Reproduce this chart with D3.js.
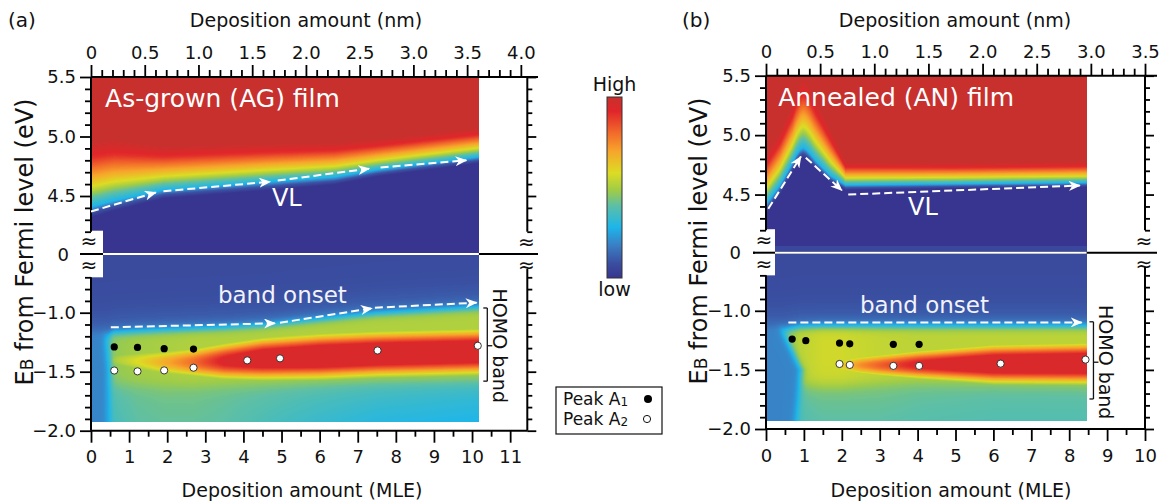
<!DOCTYPE html>
<html>
<head>
<meta charset="utf-8">
<script src="https://cdn.jsdelivr.net/npm/d3@7"></script>
<style>
body { margin: 0; background: #fff; }
svg { font-family: "DejaVu Sans", sans-serif; }
</style>
</head>
<body>
<svg id="fig" width="1166" height="504"></svg>
<script>
// ---------- values ----------
// colour map (low -> high)
var cmapV = [0, 0.08, 0.18, 0.28, 0.40, 0.48, 0.58, 0.70, 0.80, 0.92, 1.0];
var cmapC = ["#37358f", "#3a4ea0", "#3a7ec4", "#1db5ea", "#5dbfa5", "#9ccb4a",
             "#dcdc24", "#f7a52b", "#f26b2a", "#e0262a", "#c8302d"];

// (a) as-grown film, secondary-electron cutoff (VL edge)
var agVlX   = [0, 0.6, 1.9, 4.7, 6.4, 7.5, 10.2];
var agVlE   = [4.41, 4.46, 4.55, 4.62, 4.66, 4.72, 4.83];
var agVlW   = [1.3, 1.2, 1.0, 1.0, 0.9, 0.8, 0.75];
var agVlWUp = [1.7, 1.6, 1.15, 1.0, 0.9, 0.8, 0.75];
// (a) HOMO region
var agBandX   = [0.45, 0.6, 1.2, 1.9, 2.7, 3.5, 4.5, 6.0, 7.5, 10.2];
var agOnsetE  = [-1.19, -1.17, -1.16, -1.15, -1.14, -1.13, -1.11, -1.06, -1.01, -0.96];
var agPlateau = [0.42, 0.47, 0.49, 0.50, 0.51, 0.51, 0.51, 0.51, 0.51, 0.51];
var agLowerE  = [-1.60, -1.60, -1.61, -1.62, -1.62, -1.61, -1.60, -1.59, -1.58, -1.57];
var agCoreE   = [-1.40, -1.40, -1.41, -1.42, -1.42, -1.41, -1.39, -1.37, -1.35, -1.33];
var agCoreAmp = [0.40, 0.50, 0.58, 0.68, 0.80, 0.95, 1.05, 1.10, 1.10, 1.10];
var agCoreW   = [0.13, 0.14, 0.15, 0.16, 0.17, 0.19, 0.21, 0.22, 0.22, 0.22];
var agTailHi  = [0.36, 0.40, 0.42, 0.43, 0.43, 0.42, 0.41, 0.39, 0.37, 0.35];
var agTailLo  = [0.30, 0.36, 0.40, 0.41, 0.41, 0.40, 0.37, 0.33, 0.30, 0.28];
var agEdgeE   = [-1.10, -1.20, -1.50, -1.93];
var agEdgeX   = [0.30, 0.40, 0.48, 0.42];
// (a) arrows and peaks
var agVlArrows = [[[0, 4.37], [1.7, 4.53]], [[1.9, 4.54], [4.7, 4.62]],
                  [[4.9, 4.63], [7.3, 4.73]], [[7.6, 4.74], [9.85, 4.80]]];
var agOnsetArrows = [[[0.52, -1.124], [4.83, -1.09]], [[4.96, -1.085], [7.37, -0.963]],
                     [[7.45, -0.958], [10.12, -0.915]]];
var agA1X = [0.61, 1.22, 1.92, 2.69];
var agA1E = [-1.290, -1.294, -1.305, -1.308];
var agA2X = [0.61, 1.22, 1.92, 2.69, 4.10, 4.96, 7.52, 10.15];
var agA2E = [-1.490, -1.497, -1.489, -1.466, -1.404, -1.387, -1.320, -1.280];

// (b) annealed film, VL edge
var anVlX   = [0, 0.37, 0.7, 0.8, 0.9, 0.98, 1.06, 1.15, 1.3, 1.7, 2.1, 5.0, 8.46];
var anVlE   = [4.42, 4.58, 4.77, 4.835, 4.88, 4.895, 4.88, 4.85, 4.79, 4.66, 4.58, 4.59, 4.60];
var anVlW   = [1.2, 1.2, 1.2, 1.2, 1.2, 1.2, 1.2, 1.2, 1.1, 0.9, 0.6, 0.55, 0.55];
var anVlWUp = [1.3, 1.4, 1.55, 1.65, 1.75, 1.8, 1.8, 1.75, 1.6, 1.2, 0.6, 0.55, 0.55];
var anStripE = 4.07;
// (b) HOMO region
var anBandX   = [0.5, 0.9, 1.5, 2.0, 2.5, 3.0, 4.0, 6.0, 8.46];
var anOnsetE  = [-1.16, -1.14, -1.135, -1.135, -1.135, -1.135, -1.135, -1.135, -1.135];
var anPlateau = [0.45, 0.53, 0.56, 0.56, 0.55, 0.54, 0.53, 0.53, 0.53];
var anLowerE  = [-1.60, -1.62, -1.63, -1.63, -1.62, -1.61, -1.60, -1.61, -1.62];
var anCoreE   = [-1.46, -1.46, -1.46, -1.46, -1.46, -1.46, -1.455, -1.45, -1.445];
var anCoreAmp = [0, 0, 0.40, 0.62, 0.74, 0.82, 0.95, 1.08, 1.10];
var anCoreW   = [0.10, 0.10, 0.10, 0.11, 0.12, 0.13, 0.15, 0.19, 0.20];
var anTailHi  = [0.40, 0.42, 0.43, 0.43, 0.43, 0.43, 0.42, 0.41, 0.41];
var anTailLo  = [0.36, 0.38, 0.40, 0.40, 0.40, 0.40, 0.39, 0.38, 0.38];
var anEdgeE   = [-1.10, -1.18, -1.50, -1.93];
var anEdgeX   = [0.30, 0.45, 0.94, 0.80];
// (b) arrows and peaks
var anVlArrows = [[[0.06, 4.38], [0.92, 4.82]], [[1.05, 4.81], [2.0, 4.536]],
                  [[2.17, 4.50], [8.28, 4.576]]];
var anOnsetArrows = [[[0.59, -1.098], [8.33, -1.098]]];
var anA1X = [0.69, 1.05, 1.94, 2.21, 3.36, 4.04];
var anA1E = [-1.239, -1.253, -1.273, -1.279, -1.284, -1.284];
var anA2X = [1.94, 2.21, 3.36, 4.04, 6.19, 8.43];
var anA2E = [-1.450, -1.458, -1.466, -1.466, -1.447, -1.413];

// axis ticks
var topMajorE = [4.5, 5.0, 5.5];
var topMinorE = [4.2, 4.3, 4.4, 4.6, 4.7, 4.8, 4.9, 5.1, 5.2, 5.3, 5.4];
var botMajorE = [-1.0, -1.5, -2.0];
var botMinorE = [-0.7, -0.8, -0.9, -1.1, -1.2, -1.3, -1.4, -1.6, -1.7, -1.8, -1.9];
var agNmMajor = [0, 0.5, 1.0, 1.5, 2.0, 2.5, 3.0, 3.5, 4.0];
var anNmMajor = [0, 0.5, 1.0, 1.5, 2.0, 2.5, 3.0, 3.5];
var agMleMajor = [0, 1, 2, 3, 4, 5, 6, 7, 8, 9, 10, 11];
var anMleMajor = [0, 1, 2, 3, 4, 5, 6, 7, 8, 9, 10];

// ---------- drawing ----------
var svg = d3.select("#fig");
var defs = svg.append("defs");
defs.append("marker").attr("id", "arrowW")
    .attr("viewBox", "0 0 12 10").attr("refX", 11).attr("refY", 5)
    .attr("markerWidth", 12).attr("markerHeight", 10)
    .attr("markerUnits", "userSpaceOnUse").attr("orient", "auto")
  .append("path").attr("d", "M0,0 L12,5 L0,10 L3.5,5 Z").attr("fill", "#fff");

var cmap = d3.scaleLinear().domain(cmapV).range(cmapC).clamp(true);
var lut = d3.range(256).map(function(i) { return d3.rgb(cmap(i / 255)); });

function lin(xs, ys) { return d3.scaleLinear().domain(xs).range(ys).clamp(true); }
function sig(t) { return 1 / (1 + Math.exp(-t)); }

// shape of the cutoff across the edge (eV relative to the cyan edge)
var topShape = d3.scaleLinear()
    .domain([-0.07, -0.035, 0, 0.05, 0.1, 0.16, 0.24, 0.32])
    .range([0, 0.1, 0.28, 0.42, 0.58, 0.72, 0.9, 1]).clamp(true);

function topValue(vx, ve, vw, vwu, stripE) {
  var c = lin(vx, ve), wf = lin(vx, vw), wu = lin(vx, vwu);
  return function(x, E) {
    var d = E - c(x);
    var v = topShape(d / (d > 0 ? wu(x) : wf(x)));
    if (stripE && E < stripE) v = Math.max(v, 0.06);
    return v;
  };
}

function botValue(p) {
  var on = lin(p.x, p.onset), pl = lin(p.x, p.plat), lo = lin(p.x, p.lower),
      cc = lin(p.x, p.coreE), ca = lin(p.x, p.coreA), cw = lin(p.x, p.coreW),
      th = lin(p.x, p.tailHi), tl = lin(p.x, p.tailLo), ex = lin(p.edgeE, p.edgeX);
  return function(x, E) {
    var o = on(x), l = lo(x);
    var sTop = sig((o - E) / 0.02);
    var sLo = sig((E - l) / 0.035);
    var f = Math.max(0, Math.min(1, (l - E) / (l + 1.93)));
    var tail = th(x) + (tl(x) - th(x)) * f;
    var band = pl(x) * sLo + tail * (1 - sLo);
    var d = (E - cc(x)) / cw(x);
    var core = Math.min(0.94, ca(x) * Math.exp(-d * d));
    var inner = Math.max(band, core);
    var sL = sig((x - ex(E)) / 0.06);
    inner = 0.19 * (1 - sL) + inner * sL;
    var bg = 0.07 + 0.1 * Math.exp(-Math.max(0, E - o) / 0.12);
    return bg * (1 - sTop) + inner * sTop;
  };
}

function paint(sel, xs, ys, xMax, eHi, eLo, valueAt) {
  var px0 = Math.round(xs(0)), px1 = Math.round(xs(xMax)),
      py0 = Math.round(ys(eHi)), py1 = Math.round(ys(eLo));
  var w = px1 - px0, h = py1 - py0;
  var cv = document.createElement("canvas");
  cv.width = w; cv.height = h;
  var ctx = cv.getContext("2d"), img = ctx.createImageData(w, h);
  for (var j = 0; j < h; j++) {
    var E = ys.invert(py0 + j + 0.5);
    for (var i = 0; i < w; i++) {
      var v = Math.max(0, Math.min(1, valueAt(xs.invert(px0 + i + 0.5), E)));
      var c = lut[Math.round(v * 255)], k = 4 * (j * w + i);
      img.data[k] = c.r; img.data[k + 1] = c.g; img.data[k + 2] = c.b; img.data[k + 3] = 255;
    }
  }
  ctx.putImageData(img, 0, 0);
  sel.append("image").attr("x", px0).attr("y", py0).attr("width", w).attr("height", h)
     .attr("preserveAspectRatio", "none").attr("href", cv.toDataURL());
}

function line(g, x1, y1, x2, y2, color, width) {
  g.append("line").attr("x1", x1).attr("y1", y1).attr("x2", x2).attr("y2", y2)
   .attr("stroke", color || "#000").attr("stroke-width", width || 2);
}

function styleAxis(a) {
  a.select(".domain").remove();
  a.selectAll(".tick line").attr("stroke", "#000").attr("stroke-width", 1.8);
  a.selectAll("text").attr("fill", "#111").attr("font-size", 18)
   .attr("font-family", "DejaVu Sans, sans-serif");
}

var fmt1 = d3.format(".1f");
function fmtNm(d) { return d === 0 ? "0" : fmt1(d); }

function drawPanel(P) {
  var g = svg.append("g");
  var xs = d3.scaleLinear().domain([0, P.mleMax]).range([P.x0, P.x1]);
  var nm = d3.scaleLinear().domain([0, P.nmMax]).range([P.x0, P.x1]);
  var yT = d3.scaleLinear().domain([4.0, 5.5]).range(P.yTopR);
  var yB = d3.scaleLinear().domain([-0.5, -2.0]).range(P.yBotR);

  // heat maps
  paint(g, xs, yT, P.heatMax, 5.5, yT.invert(P.zeroY), P.topFn);
  paint(g, xs, yB, P.heatMax, yB.invert(P.zeroY), -1.93, P.botFn);

  // break
  line(g, P.zeroX0, P.zeroY, P.lineEnd, P.zeroY, "#000", 2);
  line(g, P.boxX1, P.zeroY, xs(P.heatMax), P.zeroY, "#fff", 2);
  g.append("rect").attr("x", P.boxX0).attr("y", yT(4.2) - 1)
   .attr("width", P.boxX1 - P.boxX0).attr("height", yB(-0.7) - yT(4.2) + 1).attr("fill", "#fff");
  line(g, P.zeroX0, P.zeroY, P.boxX1, P.zeroY, "#000", 2);
  [[P.x0 - 2, P.zeroY - 13], [P.x0 - 2, P.zeroY + 11], [P.x1 - 1, P.zeroY - 12], [P.x1 - 1, P.zeroY + 11]]
    .forEach(function(p) {
      g.append("text").attr("x", p[0]).attr("y", p[1]).attr("text-anchor", "middle")
       .attr("dominant-baseline", "central").attr("font-size", 20).attr("fill", "#111").text("≈");
    });

  // axes lines
  line(g, P.x0, yT(5.5), P.lineEnd, yT(5.5));
  line(g, P.x0, yB(-2.0), P.x1, yB(-2.0));
  line(g, P.x0, yT(5.5), P.x0, yT(4.2));
  line(g, P.x0, yB(-0.7), P.x0, yB(-2.0));
  line(g, P.x1, yT(5.5), P.x1, yT(4.2));
  line(g, P.x1, yB(-0.63), P.x1, yB(-2.0));

  // top axis (nm)
  var nmMinor = d3.range(0, 41).map(function(i) { return i / 10; })
    .filter(function(d) { return d <= P.nmMax && Math.abs(d * 2 - Math.round(d * 2)) > 1e-6; });
  g.append("g").attr("transform", "translate(0," + yT(5.5) + ")")
   .call(d3.axisTop(nm).tickValues(P.nmMajor).tickSize(12).tickPadding(6).tickFormat(fmtNm)).call(styleAxis);
  g.append("g").attr("transform", "translate(0," + yT(5.5) + ")")
   .call(d3.axisTop(nm).tickValues(nmMinor).tickSize(7).tickFormat("")).call(styleAxis);

  // bottom axis (MLE)
  var mleMinor = P.mleMajor.map(function(d) { return d + 0.5; }).filter(function(d) { return d < P.mleMax; });
  g.append("g").attr("transform", "translate(0," + yB(-2.0) + ")")
   .call(d3.axisBottom(xs).tickValues(P.mleMajor).tickSize(12).tickPadding(8).tickFormat(d3.format("d"))).call(styleAxis);
  g.append("g").attr("transform", "translate(0," + yB(-2.0) + ")")
   .call(d3.axisBottom(xs).tickValues(mleMinor).tickSize(6).tickFormat("")).call(styleAxis);

  // left & right axes
  [[yT, topMajorE, topMinorE], [yB, botMajorE, botMinorE]].forEach(function(s) {
    g.append("g").attr("transform", "translate(" + P.x0 + ",0)")
     .call(d3.axisLeft(s[0]).tickValues(s[1]).tickSize(11).tickPadding(4).tickFormat(fmt1)).call(styleAxis);
    g.append("g").attr("transform", "translate(" + P.x0 + ",0)")
     .call(d3.axisLeft(s[0]).tickValues(s[2]).tickSize(6).tickFormat("")).call(styleAxis);
    g.append("g").attr("transform", "translate(" + P.x1 + ",0)")
     .call(d3.axisRight(s[0]).tickValues(s[1]).tickSize(9).tickFormat("")).call(styleAxis);
    g.append("g").attr("transform", "translate(" + P.x1 + ",0)")
     .call(d3.axisRight(s[0]).tickValues(s[2]).tickSize(5).tickFormat("")).call(styleAxis);
  });
  g.append("text").attr("x", P.zeroLabelX).attr("y", P.zeroY).attr("text-anchor", "end")
   .attr("dominant-baseline", "central").attr("font-size", 18).attr("fill", "#111").text("0");

  // arrows
  g.selectAll(".vl").data(P.vlArrows).join("line")
   .attr("x1", function(d) { return xs(d[0][0]); }).attr("y1", function(d) { return yT(d[0][1]); })
   .attr("x2", function(d) { return xs(d[1][0]); }).attr("y2", function(d) { return yT(d[1][1]); })
   .attr("stroke", "#fff").attr("stroke-width", 2).attr("stroke-dasharray", "8,4")
   .attr("marker-end", "url(#arrowW)");
  g.selectAll(".onset").data(P.onsetArrows).join("line")
   .attr("x1", function(d) { return xs(d[0][0]); }).attr("y1", function(d) { return yB(d[0][1]); })
   .attr("x2", function(d) { return xs(d[1][0]); }).attr("y2", function(d) { return yB(d[1][1]); })
   .attr("stroke", "#fff").attr("stroke-width", 2).attr("stroke-dasharray", "8,4")
   .attr("marker-end", "url(#arrowW)");

  // peaks
  g.selectAll(".a1").data(d3.zip(P.a1x, P.a1e)).join("circle")
   .attr("cx", function(d) { return xs(d[0]); }).attr("cy", function(d) { return yB(d[1]); })
   .attr("r", 3.6).attr("fill", "#000");
  g.selectAll(".a2").data(d3.zip(P.a2x, P.a2e)).join("circle")
   .attr("cx", function(d) { return xs(d[0]); }).attr("cy", function(d) { return yB(d[1]); })
   .attr("r", 3.6).attr("fill", "#fff").attr("stroke", "#222").attr("stroke-width", 0.9);

  // in-map labels
  g.append("text").attr("x", xs(P.titlePos[0])).attr("y", yT(P.titlePos[1]))
   .attr("font-size", 25).attr("fill", "#fff").text(P.title);
  g.append("text").attr("x", xs(P.vlPos[0])).attr("y", yT(P.vlPos[1])).attr("text-anchor", "middle")
   .attr("font-size", 24).attr("fill", "#fff").text("VL");
  g.append("text").attr("x", xs(P.onsetPos[0])).attr("y", yB(P.onsetPos[1]))
   .attr("font-size", 23).attr("fill", "#f2f2fa").text("band onset");

  // HOMO bracket
  var bx = xs(P.brX), b1 = yB(P.brE[0]), b2 = yB(P.brE[1]), bm = yB(P.brE[2]);
  line(g, bx, b1, bx, b2, "#111", 1.3);
  line(g, bx - 4, b1, bx, b1, "#111", 1.3);
  line(g, bx - 4, b2, bx, b2, "#111", 1.3);
  line(g, bx, bm, bx + 5, bm, "#111", 1.3);
  g.append("text").attr("transform", "translate(" + (bx + 6) + "," + bm + ") rotate(90)")
   .attr("text-anchor", "middle").attr("font-size", 19).attr("fill", "#111").text("HOMO band");

  // titles
  g.append("text").attr("x", P.labelX).attr("y", 27).attr("font-size", 20).attr("fill", "#111").text(P.label);
  g.append("text").attr("x", P.titleX).attr("y", 27).attr("text-anchor", "middle")
   .attr("font-size", 19).attr("fill", "#111").text("Deposition amount (nm)");
  g.append("text").attr("x", P.titleX - 4).attr("y", 497).attr("text-anchor", "middle")
   .attr("font-size", 19).attr("fill", "#111").text("Deposition amount (MLE)");
  var yl = g.append("text").attr("transform", "translate(" + P.yLabelX + "," + P.yLabelY + ") rotate(-90)")
   .attr("text-anchor", "middle").attr("font-size", 24).attr("fill", "#111");
  yl.append("tspan").text("E");
  yl.append("tspan").attr("font-size", 17).text("B");
  yl.append("tspan").text(" from Fermi level (eV)");
}

drawPanel({
  label: "(a)", labelX: 8, titleX: 306, yLabelX: 32.5, yLabelY: 242,
  x0: 91, x1: 527.3, mleMax: 11.45, nmMax: 4.06, heatMax: 10.18,
  nmMajor: agNmMajor, mleMajor: agMleMajor,
  yTopR: [255.5, 77], yBotR: [253.7, 430.7], zeroY: 254,
  zeroX0: 80, boxX0: 82, boxX1: 103, lineEnd: 538, zeroLabelX: 69,
  topFn: topValue(agVlX, agVlE, agVlW, agVlWUp, null),
  botFn: botValue({ x: agBandX, onset: agOnsetE, plat: agPlateau, lower: agLowerE,
    coreE: agCoreE, coreA: agCoreAmp, coreW: agCoreW, tailHi: agTailHi, tailLo: agTailLo,
    edgeE: agEdgeE, edgeX: agEdgeX }),
  vlArrows: agVlArrows, onsetArrows: agOnsetArrows,
  a1x: agA1X, a1e: agA1E, a2x: agA2X, a2e: agA2E,
  title: "As-grown (AG) film", titlePos: [0.37, 5.25],
  vlPos: [5.14, 4.42], onsetPos: [3.33, -0.918],
  brX: 10.4, brE: [-0.96, -1.58, -1.28]
});

drawPanel({
  label: "(b)", labelX: 682, titleX: 955, yLabelX: 706.5, yLabelY: 241,
  x0: 766, x1: 1145, mleMax: 10, nmMax: 3.5, heatMax: 8.46,
  nmMajor: anNmMajor, mleMajor: anMleMajor,
  yTopR: [254, 75.7], yBotR: [251.7, 429], zeroY: 252.7,
  zeroX0: 753, boxX0: 755, boxX1: 775, lineEnd: 1157, zeroLabelX: 741,
  topFn: topValue(anVlX, anVlE, anVlW, anVlWUp, anStripE),
  botFn: botValue({ x: anBandX, onset: anOnsetE, plat: anPlateau, lower: anLowerE,
    coreE: anCoreE, coreA: anCoreAmp, coreW: anCoreW, tailHi: anTailHi, tailLo: anTailLo,
    edgeE: anEdgeE, edgeX: anEdgeX }),
  vlArrows: anVlArrows, onsetArrows: anOnsetArrows,
  a1x: anA1X, a1e: anA1E, a2x: anA2X, a2e: anA2E,
  title: "Annealed (AN) film", titlePos: [0.32, 5.245],
  vlPos: [4.14, 4.33], onsetPos: [2.48, -1.016],
  brX: 8.64, brE: [-1.093, -1.746, -1.435]
});

// colour bar
var cb = svg.append("g");
var grad = defs.append("linearGradient").attr("id", "cbar")
    .attr("x1", 0).attr("y1", 1).attr("x2", 0).attr("y2", 0);
grad.selectAll("stop").data(cmapV).join("stop")
    .attr("offset", function(d) { return d; })
    .attr("stop-color", function(d, i) { return cmapC[i]; });
cb.append("rect").attr("x", 607).attr("y", 97).attr("width", 15).attr("height", 181)
  .attr("fill", "url(#cbar)").attr("stroke", "#333").attr("stroke-width", 1);
cb.append("text").attr("x", 614.5).attr("y", 91).attr("text-anchor", "middle")
  .attr("font-size", 19).attr("fill", "#111").text("High");
cb.append("text").attr("x", 614.5).attr("y", 296).attr("text-anchor", "middle")
  .attr("font-size", 19).attr("fill", "#111").text("low");

// legend
var lg = svg.append("g");
lg.append("rect").attr("x", 556).attr("y", 387).attr("width", 106).attr("height", 47)
  .attr("fill", "#fff").attr("stroke", "#111").attr("stroke-width", 1.2);
[["1", 405], ["2", 424.5]].forEach(function(r) {
  var t = lg.append("text").attr("x", 563).attr("y", r[1]).attr("font-size", 17).attr("fill", "#111");
  t.append("tspan").text("Peak A");
  t.append("tspan").attr("font-size", 12).attr("dy", 1).text(r[0]);
});
lg.append("circle").attr("cx", 648).attr("cy", 399).attr("r", 4).attr("fill", "#000");
lg.append("circle").attr("cx", 647).attr("cy", 419).attr("r", 3.6).attr("fill", "#fff")
  .attr("stroke", "#111").attr("stroke-width", 1);
</script>
</body>
</html>
